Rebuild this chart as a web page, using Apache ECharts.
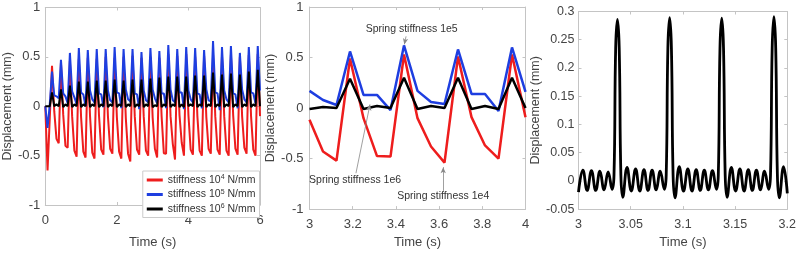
<!DOCTYPE html>
<html><head><meta charset="utf-8">
<script src="https://cdn.jsdelivr.net/npm/echarts@6/dist/echarts.min.js"></script>
<style>html,body{margin:0;padding:0;background:#fff}#c{width:799px;height:254px}</style>
</head><body><div id="c"></div><script>
// ---- Panel 1: full history 0..6 s, sampled every 1/16 s ----
const dt1 = 0.0625;
const red1 = [
 0, -0.65, -0.12, 0.41,
 -0.05, -0.33, -0.375, 0.44,
 -0.08, -0.40, -0.42, 0.46,
 -0.10, -0.45, -0.51, 0.48,
 -0.11, -0.46, -0.52, 0.49,
 -0.10, -0.47, -0.53, 0.48,
 -0.09, -0.44, -0.49, 0.50,
 -0.10, -0.43, -0.48, 0.49,
 -0.11, -0.46, -0.53, 0.50,
 -0.12, -0.48, -0.56, 0.51,
 -0.10, -0.44, -0.49, 0.49,
 -0.10, -0.45, -0.50, 0.50,
 -0.115, -0.43, -0.52, 0.49,
 -0.10, -0.475, -0.48, 0.53,
 -0.10, -0.38, -0.54, 0.51,
 -0.09, -0.37, -0.50, 0.53,
 -0.09, -0.44, -0.49, 0.50,
 -0.10, -0.45, -0.50, 0.51,
 -0.11, -0.43, -0.48, 0.52,
 -0.10, -0.44, -0.49, 0.51,
 -0.10, -0.45, -0.50, 0.52,
 -0.09, -0.43, -0.49, 0.50,
 -0.10, -0.42, -0.48, 0.52,
 -0.10, -0.44, -0.50, 0.53,
 -0.10];
const blue1 = [
 0, -0.22, 0.02, 0.35,
 0.11, 0.10, 0.08, 0.47,
 0.13, 0.10, 0.03, 0.54,
 0.15, 0.09, 0.02, 0.59,
 0.14, 0.12, 0.00, 0.57,
 0.16, 0.07, 0.04, 0.58,
 0.13, 0.12, -0.01, 0.58,
 0.16, 0.06, 0.04, 0.60,
 0.14, 0.13, -0.02, 0.58,
 0.17, 0.07, 0.05, 0.58,
 0.13, 0.12, -0.03, 0.55,
 0.16, 0.06, 0.04, 0.59,
 0.17, 0.08, 0.03, 0.56,
 0.13, 0.13, -0.02, 0.62,
 0.17, 0.06, 0.04, 0.58,
 0.14, 0.14, -0.03, 0.60,
 0.16, 0.07, 0.04, 0.59,
 0.13, 0.12, -0.02, 0.57,
 0.17, 0.06, 0.05, 0.66,
 0.14, 0.13, -0.04, 0.60,
 0.16, 0.07, 0.04, 0.61,
 0.13, 0.12, -0.02, 0.54,
 0.17, 0.07, 0.04, 0.60,
 0.14, 0.13, 0.03, 0.61,
 0.16];
const black1 = [
 0, 0, 0.00, 0.14,
 0.00, 0.02, 0.00, 0.17,
 -0.01, 0.02, 0.00, 0.21,
 -0.01, 0.02, 0.00, 0.25,
 -0.01, 0.02, 0.00, 0.25,
 -0.01, 0.02, 0.00, 0.26,
 -0.01, 0.02, 0.00, 0.26,
 -0.01, 0.02, 0.00, 0.27,
 -0.01, 0.02, 0.00, 0.26,
 -0.01, 0.02, 0.00, 0.27,
 -0.01, 0.02, 0.00, 0.27,
 -0.01, 0.02, 0.00, 0.28,
 -0.01, 0.01, 0.00, 0.29,
 -0.01, 0.02, 0.00, 0.30,
 -0.01, 0.02, 0.00, 0.30,
 -0.01, 0.02, -0.01, 0.30,
 0.00, 0.02, 0.00, 0.31,
 -0.01, 0.02, 0.00, 0.31,
 -0.01, 0.02, 0.00, 0.34,
 -0.01, 0.02, 0.00, 0.32,
 -0.01, 0.02, 0.00, 0.33,
 -0.01, 0.02, 0.00, 0.32,
 -0.01, 0.02, 0.00, 0.35,
 -0.01, 0.02, 0.00, 0.37,
 0.00];
const legendNames = ['k4', 'k5', 'k6'];
const legendExp = {k4: '4', k5: '5', k6: '6'};

// ---- Panel 2: zoom 3..4 s of the same data ----
const zoom2 = [3, 4];
const ann2 = [
 {text: 'Spring stiffness 1e5', at: [3.473, 0.786], from: [3.447, 0.71], to: [3.439, 0.63]},
 {text: 'Spring stiffness 1e6', at: [3.211, -0.71], from: [3.215, -0.645], to: [3.28, 0.035]},
 {text: 'Spring stiffness 1e4', at: [3.619, -0.872], from: [3.619, -0.82], to: [3.619, -0.585]}
];

// ---- Panel 3: stiffness 1e6, 3.0..3.2 s (turning points) ----
const t3 = [3.000,3.0042,3.0083,3.0124,3.0165,3.0205,3.0245,3.0284,3.0322,3.0340,3.0356,3.0373,3.0390,3.0406,3.0424,
 3.0465,3.0506,3.0547,3.0587,3.0627,3.0666,3.0705,3.0744,3.0783,3.0822,3.0840,3.0856,3.0873,3.0890,3.0906,3.0924,
 3.0965,3.1006,3.1047,3.1087,3.1127,3.1166,3.1205,3.1244,3.1283,3.1321,3.1339,3.1355,3.1372,3.1389,3.1405,3.1423,
 3.1464,3.1505,3.1546,3.1586,3.1626,3.1665,3.1704,3.1743,3.1782,3.1821,3.1839,3.1855,3.1872,3.1889,3.1905,3.1923,
 3.1964,3.2000];
const v3 = [-0.020,0.019,-0.017,0.018,-0.017,0.017,-0.016,0.016,-0.015,0.010,0.235,0.286,0.235,0.010,-0.029,
 0.024,-0.018,0.021,-0.018,0.020,-0.017,0.019,-0.016,0.017,-0.015,0.010,0.235,0.289,0.235,0.010,-0.030,
 0.025,-0.018,0.021,-0.018,0.020,-0.017,0.019,-0.016,0.018,-0.015,0.010,0.235,0.288,0.235,0.010,-0.029,
 0.024,-0.018,0.021,-0.018,0.020,-0.017,0.019,-0.016,0.017,-0.015,0.010,0.235,0.291,0.235,0.010,-0.030,
 0.025,-0.022];

// ---- build ----
const RED = '#ee1d1d', BLUE = '#1e3ee0', BLACK = '#000000';
const axisCol = '#c4c4c4', labCol = '#444444';
const font = '"Liberation Sans", Arial, sans-serif';
const fmt = v => String(parseFloat(Number(v).toFixed(3)));

function pairs(vals, i0) { return vals.map((v, i) => [(i0 + i) * dt1, v]); }
const i0 = Math.round(zoom2[0] / dt1), i1 = Math.round(zoom2[1] / dt1);

const grids = [
 {left: 40.5, top: 7.5, width: 219.5, height: 210.5},
 {left: 309.5, top: 7, width: 216, height: 208},
 {left: 578.5, top: 11.5, width: 210, height: 203}
];
const xs = [
 {min: 0, max: 6, iv: 2, fs: 13, gap: 31, m: 9},
 {min: 3, max: 4, iv: 0.2, fs: 13, gap: 26, m: 9},
 {min: 3, max: 3.2, iv: 0.05, fs: 12.5, gap: 25, m: 9}
];
const ys = [
 {min: -1, max: 1, iv: 0.5, fs: 13, gap: 24, m: 5},
 {min: -1, max: 1, iv: 0.5, fs: 13, gap: 24, m: 6},
 {min: -0.05, max: 0.3, iv: 0.05, fs: 12.5, gap: 33, m: 4}
];
const xAxis = [], yAxis = [];
grids.forEach((g, gi) => {
 const x = xs[gi], y = ys[gi];
 const tick = {show: true, inside: true, length: 3, lineStyle: {color: axisCol}};
 const line = {show: true, onZero: false, lineStyle: {color: axisCol, width: 1}};
 xAxis.push({type: 'value', gridIndex: gi, min: x.min, max: x.max, interval: x.iv, position: 'bottom',
  axisLine: line, axisTick: tick, splitLine: {show: false},
  axisLabel: {show: true, margin: x.m, color: labCol, fontSize: x.fs, fontFamily: font, formatter: fmt, showMinLabel: true, showMaxLabel: true},
  name: 'Time (s)', nameLocation: 'middle', nameGap: x.gap, nameTextStyle: {color: labCol, fontSize: 13, fontFamily: font}});
 xAxis.push({type: 'value', gridIndex: gi, min: x.min, max: x.max, interval: x.iv, position: 'top',
  axisLine: line, axisTick: tick, splitLine: {show: false}, axisLabel: {show: false}});
 yAxis.push({type: 'value', gridIndex: gi, min: y.min, max: y.max, interval: y.iv, position: 'left',
  axisLine: line, axisTick: tick, splitLine: {show: false},
  axisLabel: {show: true, margin: y.m, color: labCol, fontSize: y.fs, fontFamily: font, formatter: fmt, showMinLabel: true, showMaxLabel: true},
  name: 'Displacement (mm)', nameLocation: 'middle', nameGap: y.gap, nameTextStyle: {color: labCol, fontSize: 12.5, fontFamily: font}});
 yAxis.push({type: 'value', gridIndex: gi, min: y.min, max: y.max, interval: y.iv, position: 'right',
  axisLine: line, axisTick: tick, splitLine: {show: false}, axisLabel: {show: false}});
});

function lineSeries(name, gi, data, color, w, extra) {
 return Object.assign({type: 'line', name, xAxisIndex: gi * 2, yAxisIndex: gi * 2, data, showSymbol: false, symbol: 'none',
  lineStyle: {color, width: w}, itemStyle: {color}, silent: true, animation: false, clip: true}, extra || {});
}

const series = [
 lineSeries('k4', 0, pairs(red1, 0), RED, 2),
 lineSeries('k5', 0, pairs(blue1, 0), BLUE, 2),
 lineSeries('k6', 0, pairs(black1, 0), BLACK, 2),
 lineSeries('p2r', 1, pairs(red1.slice(i0, i1 + 1), i0), RED, 2.5),
 lineSeries('p2b', 1, pairs(blue1.slice(i0, i1 + 1), i0), BLUE, 2.5),
 lineSeries('p2k', 1, pairs(black1.slice(i0, i1 + 1), i0), BLACK, 2.5, {
  markLine: {silent: true, animation: false, symbol: ['none', 'arrow'], symbolSize: [4, 6],
   lineStyle: {color: '#888', width: 0.8, type: 'solid'}, label: {show: false},
   data: ann2.map(a => [{coord: a.from}, {coord: a.to}])},
  markPoint: {silent: true, animation: false, symbol: 'circle', symbolSize: 0,
   label: {show: true, position: 'inside', formatter: '{b}', color: '#333', fontSize: 10.5, fontFamily: font},
   data: ann2.map(a => ({name: a.text, coord: a.at}))}
 }),
 lineSeries('p3k', 2, t3.map((t, i) => [t, v3[i]]), BLACK, 2.8, {smooth: 0.45})
];

const chart = echarts.init(document.getElementById('c'), null, {renderer: 'canvas'});
chart.setOption({
 animation: false,
 backgroundColor: '#fff',
 grid: grids,
 xAxis, yAxis, series,
 legend: {data: legendNames, orient: 'vertical', right: 799 - 259.5, bottom: 254 - 217.5,
  icon: 'rect', itemWidth: 16, itemHeight: 3, itemGap: 3, padding: [3, 4, 3, 4],
  borderColor: '#ccc', borderWidth: 1, backgroundColor: '#fff', selectedMode: false,
  textStyle: {fontSize: 10.5, color: '#333', fontFamily: font,
   rich: {b: {fontSize: 10.5, color: '#333', fontFamily: font}, sup: {fontSize: 7, color: '#333', fontFamily: font, verticalAlign: 'top', padding: [0, 0, 5, 0]}}},
  formatter: n => '{b|stiffness 10}{sup|' + legendExp[n] + '}{b| N/mm}'}
});
</script></body></html>
